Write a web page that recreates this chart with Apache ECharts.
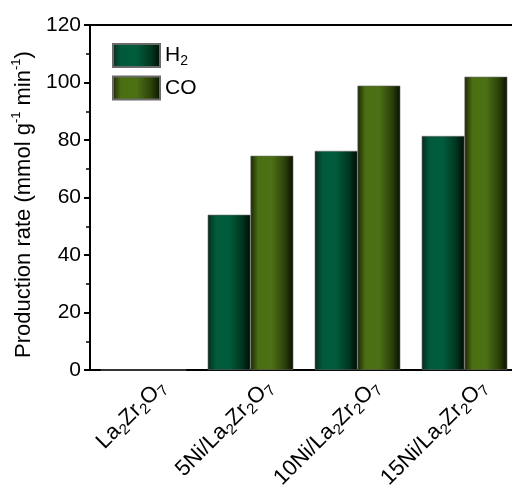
<!DOCTYPE html>
<html>
<head>
<meta charset="utf-8">
<script src="https://cdn.jsdelivr.net/npm/echarts@6/dist/echarts.min.js"></script>
<style>
  html, body { margin: 0; padding: 0; background: #fff; }
  #rateChart { width: 512px; height: 486px; }
</style>
</head>
<body>
<div id="rateChart"></div>
<script>
var catalysts = ['La2Zr2O7', '5Ni/La2Zr2O7', '10Ni/La2Zr2O7', '15Ni/La2Zr2O7'];
var h2Rate = [0, 54, 76.2, 81.4];
var coRate = [0, 74.5, 98.9, 102];
var yTicks = [0, 20, 40, 60, 80, 100, 120];

// rich text: digits after element letters become subscripts
function subFormula(name) {
  return name.replace(/([A-Za-z])(\d+)/g, '$1{s|$2}').replace(/(^|\})([^{}]+)(?=\{|$)/g, '$1{n|$2}');
}

var h2Fill = new echarts.graphic.LinearGradient(0, 0, 1, 0, [
  { offset: 0, color: '#0b2a1c' },
  { offset: 0.18, color: '#005a3b' },
  { offset: 0.5, color: '#005c3c' },
  { offset: 0.8, color: '#00361f' },
  { offset: 1, color: '#000c05' }
]);
var coFill = new echarts.graphic.LinearGradient(0, 0, 1, 0, [
  { offset: 0, color: '#1c2605' },
  { offset: 0.18, color: '#4a6e12' },
  { offset: 0.5, color: '#4c7014' },
  { offset: 0.8, color: '#2c420a' },
  { offset: 1, color: '#0a1000' }
]);

var subRich = {
  n: { fontSize: 22, lineHeight: 28, color: '#000' },
  s: { fontSize: 15, lineHeight: 12, verticalAlign: 'bottom', color: '#000' }
};

var chart = echarts.init(document.getElementById('rateChart'));

var option = {
  backgroundColor: '#fff',
  animation: false,
  textStyle: { fontFamily: 'Liberation Sans, Arial, sans-serif', color: '#000' },
  grid: {
    left: 90, top: 25, width: 428, bottom: 116,
    outerBoundsMode: 'none',
    containLabel: false,
    show: true, borderColor: '#000', borderWidth: 2
  },
  legend: {
    left: 112, top: 43, orient: 'vertical', padding: 0,
    icon: 'rect',
    itemWidth: 47, itemHeight: 23, itemGap: 7,
    textStyle: {
      fontSize: 21, color: '#000',
      rich: {
        n: { fontSize: 21, lineHeight: 26, color: '#000' },
        s: { fontSize: 14, lineHeight: 10, verticalAlign: 'bottom', color: '#000' }
      }
    },
    formatter: function (name) { return subFormula(name); },
    data: ['H2', 'CO']
  },
  xAxis: {
    type: 'category',
    data: catalysts,
    axisLine: { lineStyle: { color: '#000', width: 2 } },
    axisTick: { show: false },
    axisLabel: {
      rotate: 45, margin: 32, color: '#000', fontSize: 22,
      padding: [0, -26, 0, 0],
      formatter: function (v) { return subFormula(v); },
      rich: subRich
    }
  },
  yAxis: {
    type: 'value',
    min: yTicks[0], max: yTicks[yTicks.length - 1], interval: 20,
    name: '{n|Production rate (mmol g}{p|-1}{n| min}{p|-1}{n|)}',
    nameLocation: 'middle', nameRotate: 90, nameGap: 47,
    nameTextStyle: {
      padding: [0, 14, 0, 0],
      rich: {
        n: { fontSize: 22, lineHeight: 28, color: '#000' },
        p: { fontSize: 13, lineHeight: 12, verticalAlign: 'top', color: '#000' }
      }
    },
    axisLine: { show: true, lineStyle: { color: '#000', width: 2 } },
    axisTick: { show: true, inside: false, length: 6, lineStyle: { color: '#000', width: 2 } },
    minorTick: { show: true, splitNumber: 2, length: 4, lineStyle: { color: '#000', width: 1.5 } },
    splitLine: { show: false },
    axisLabel: { color: '#000', fontSize: 21, margin: 9 }
  },
  series: [{
    name: 'H2',
    type: 'bar',
    barGap: '0%',
    barCategoryGap: '20%',
    itemStyle: { color: h2Fill, borderColor: '#6a6a6a', borderWidth: 0.6 },
    data: h2Rate
  }, {
    name: 'CO',
    type: 'bar',
    itemStyle: { color: coFill, borderColor: '#6a6a6a', borderWidth: 0.6 },
    data: coRate
  }]
};

chart.setOption(option);
</script>
</body>
</html>
